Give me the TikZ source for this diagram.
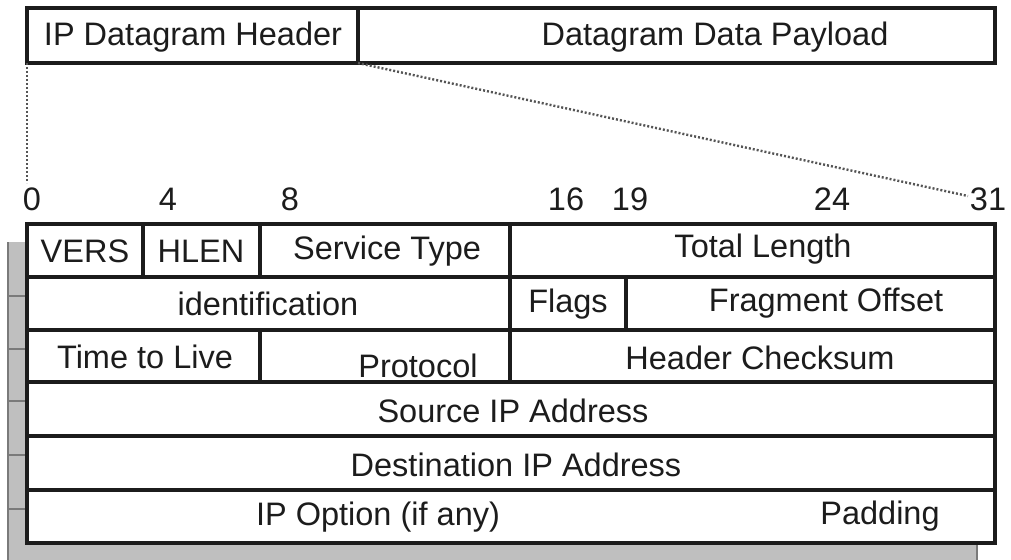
\documentclass[tikz,border=0pt]{standalone}
\usepackage{fontspec}
\setmainfont{Liberation Sans}
\definecolor{ink}{HTML}{1C1C1C}
\definecolor{shadowgray}{HTML}{BFBFBF}
\definecolor{shadeline}{HTML}{7A7A7A}
\definecolor{dotc}{HTML}{555555}
\begin{document}
\begin{tikzpicture}[x=1pt,y=-1pt,
  font=\fontsize{32.5}{38}\selectfont, text=ink,
  cellbox/.style={draw=ink, line width=3.2pt, inner sep=0pt, outer sep=0pt},
  lbl/.style={inner sep=0pt, anchor=center},
  dotline/.style={draw=dotc, line width=2.4pt, dash pattern=on 2pt off 2pt}]
\useasboundingbox (0,0) rectangle (1011,559);
% shadow behind the table
\fill[fill=shadowgray] (8,242) rectangle (977,562);
\draw[shadeline, line width=1.8pt] (8,242) -- (8,562);
\draw[shadeline, line width=1.8pt] (977,242) -- (977,562);
\foreach \yy in {296,349,401,455,509}
  \draw[shadeline, line width=2.2pt] (8,\yy) -- (28,\yy);
% top bar
\node[cellbox, minimum width=331pt, minimum height=55pt] (hdr) at (192.5,35.5) {};
\node[cellbox, minimum width=637pt, minimum height=55pt] (pay) at (676.5,35.5) {};
\node[lbl] (thdr) at (193,37) {IP Datagram Header};
\node[lbl] (tpay) at (715,37) {Datagram Data Payload};
% bit numbers
\node[lbl] (b0) at (32,199) {0};
\node[lbl] (b4) at (168,199) {4};
\node[lbl] (b8) at (290,199) {8};
\node[lbl] (b16) at (566,199) {16};
\node[lbl] (b19) at (630,199) {19};
\node[lbl] (b24) at (832,199) {24};
\node[lbl] (b31) at (988,199) {31};
\coordinate (zero) at (27,183);
\coordinate (end31) at (968,196);
\draw[dotline] (hdr.south west) -- (zero);
\draw[dotline] (hdr.south east) -- (end31);
% table cells
\fill[white] (27,224) rectangle (995,543);
\node[cellbox, minimum width=116pt, minimum height=53pt] (vers) at (85,250.5) {};
\node[cellbox, minimum width=117pt, minimum height=53pt] (hlen) at (201.5,250.5) {};
\node[cellbox, minimum width=250pt, minimum height=53pt] (stype) at (385,250.5) {};
\node[cellbox, minimum width=485pt, minimum height=53pt] (tlen) at (752.5,250.5) {};
\node[cellbox, minimum width=483pt, minimum height=53pt] (ident) at (268.5,303.5) {};
\node[cellbox, minimum width=116pt, minimum height=53pt] (flags) at (568,303.5) {};
\node[cellbox, minimum width=369pt, minimum height=53pt] (frag) at (810.5,303.5) {};
\node[cellbox, minimum width=233pt, minimum height=52pt] (ttl) at (143.5,356) {};
\node[cellbox, minimum width=250pt, minimum height=52pt] (proto) at (385,356) {};
\node[cellbox, minimum width=485pt, minimum height=52pt] (csum) at (752.5,356) {};
\node[cellbox, minimum width=968pt, minimum height=54pt] (src) at (511,409) {};
\node[cellbox, minimum width=968pt, minimum height=54pt] (dst) at (511,463) {};
\node[cellbox, minimum width=968pt, minimum height=53pt] (opt) at (511,516.5) {};
% labels
\node[lbl] (tvers) at (85,251) {VERS};
\node[lbl] (thlen) at (201,251) {HLEN};
\node[lbl] (tstype) at (387,251) {Service Type};
\node[lbl] (ttlen) at (763,249) {Total Length};
\node[lbl] (tident) at (268,304) {identification};
\node[lbl] (tflags) at (568,304) {Flags};
\node[lbl] (tfrag) at (826,303) {Fragment Offset};
\node[lbl] (tttl) at (145,357) {Time to Live};
\node[lbl] (tproto) at (418,366) {Protocol};
\node[lbl] (tcsum) at (760,358) {Header Checksum};
\node[lbl] (tsrc) at (513,411) {Source IP Address};
\node[lbl] (tdst) at (516,465) {Destination IP Address};
\node[lbl] (topt) at (378,517) {IP Option (if any)};
\node[lbl] (tpad) at (880,516) {Padding};
\end{tikzpicture}
\end{document}
